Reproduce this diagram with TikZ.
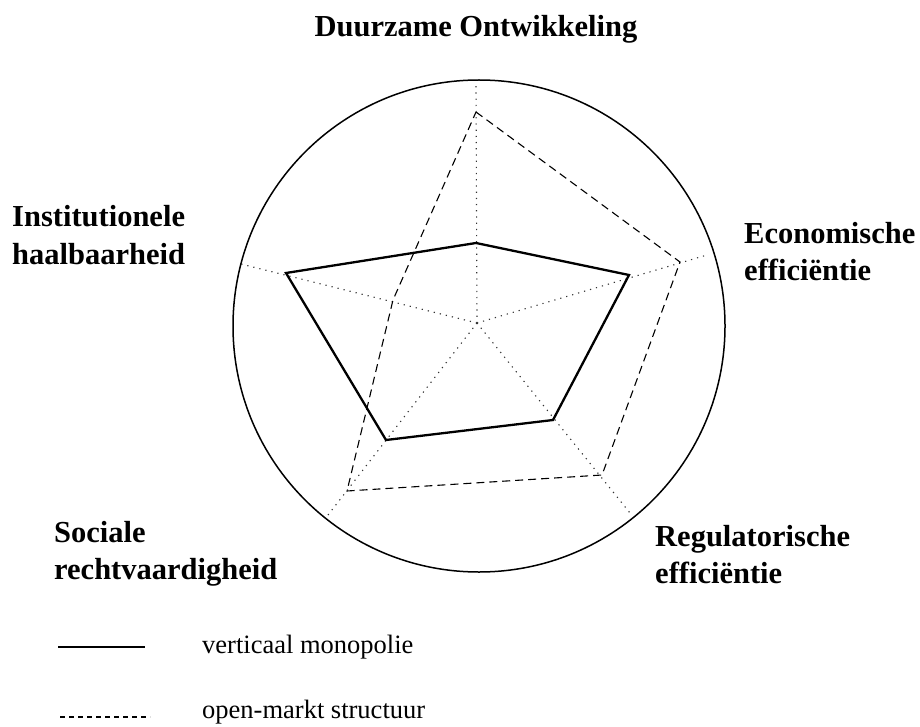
\documentclass[tikz,border=0pt]{standalone}
\usepackage{fontspec}
\setmainfont{Liberation Serif}
\begin{document}
\begin{tikzpicture}[x=1pt,y=1pt,
  axislabel/.style={font=\fontsize{30.5}{37}\selectfont\bfseries, anchor=base west, inner sep=0pt, align=left},
  legendtext/.style={font=\fontsize{26.5}{30}\selectfont, anchor=base west, inner sep=0pt},
  axisline/.style={line width=1.1pt, dash pattern=on 1.2pt off 5pt, black!80},
  monopoly/.style={line width=2.3pt, line join=miter},
  openmarket/.style={line width=1.1pt, dash pattern=on 8pt off 5pt},
  rim/.style={line width=1.5pt}]
\useasboundingbox (0,0) rectangle (920,-727);
% centre and axis ends
\coordinate (c) at (477,-323);
\coordinate (aT) at (476,-84);
\coordinate (aR) at (707,-255);
\coordinate (aL) at (237,-263);
\coordinate (aLL) at (328,-515);
\coordinate (aLR) at (630,-513);
% outer circle
\draw[rim] (479,-326) circle[radius=246];
% axes
\foreach \e in {aT,aR,aL,aLL,aLR} \draw[axisline] (c) -- (\e);
% verticaal monopolie
\coordinate (sT) at (476,-243);
\coordinate (sR) at (629,-275);
\coordinate (sLR) at (553,-420);
\coordinate (sLL) at (386,-440);
\coordinate (sL) at (286,-273);
\draw[monopoly] (sT) -- (sR) -- (sLR) -- (sLL) -- (sL) -- cycle;
% open-markt structuur
\coordinate (dT) at (476,-112);
\coordinate (dR) at (680,-262);
\coordinate (dLR) at (602,-475);
\coordinate (dLL) at (347,-491);
\coordinate (dL) at (393,-300);
\draw[openmarket] (dT) -- (dR) -- (dLR) -- (dLL) -- (dL) -- cycle;
% labels (base anchor = baseline of the last line)
\node[font=\fontsize{30.5}{37}\selectfont\bfseries, anchor=base, inner sep=0pt] (title) at (476,-37) {Duurzame Ontwikkeling};
\node[axislabel] (inst) at (12,-264) {Institutionele\\haalbaarheid};
\node[axislabel] (econ) at (744,-280) {Economische\\efficiëntie};
\node[axislabel] (soc) at (54,-579) {Sociale\\rechtvaardigheid};
\node[axislabel] (reg) at (655,-583) {Regulatorische\\efficiëntie};
% legend
\coordinate (l1a) at (58,-647);
\coordinate (l1b) at (145,-647);
\coordinate (l2a) at (60,-717);
\coordinate (l2b) at (150,-717);
\draw[line width=1.8pt] (l1a) -- (l1b);
\draw[line width=1.1pt, dash pattern=on 5pt off 4pt] (l2a) -- (l2b);
\node[legendtext] (leg1) at (202,-653) {verticaal monopolie};
\node[legendtext] (leg2) at (202,-718) {open-markt structuur};
\end{tikzpicture}
\end{document}
